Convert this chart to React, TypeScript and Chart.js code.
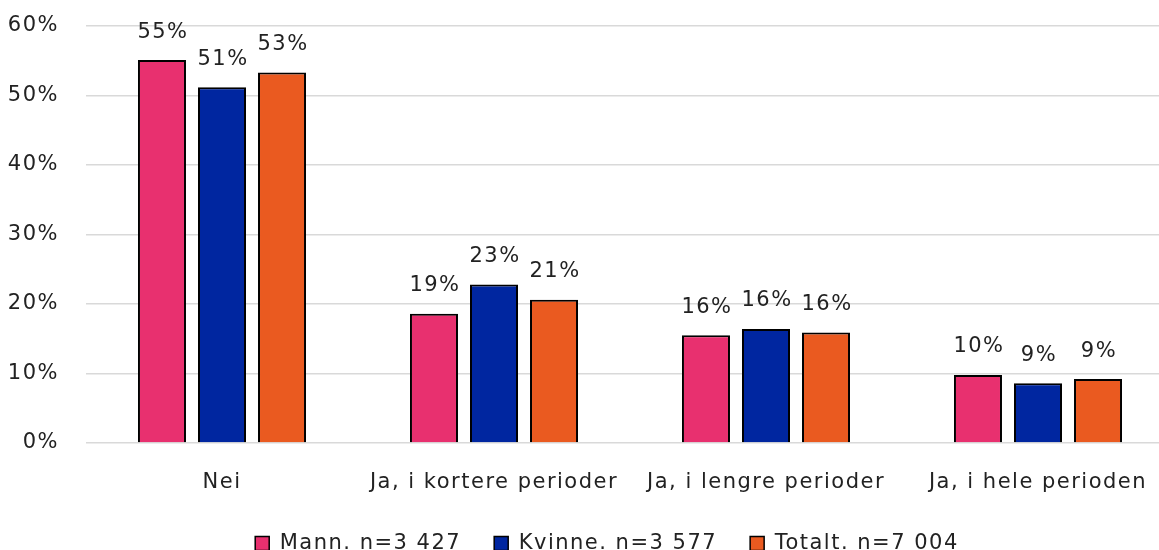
import React, { useEffect, useRef } from "react";
import { Chart, registerables } from "chart.js";

Chart.register(...registerables);

const categories = ["Nei", "Ja, i kortere perioder", "Ja, i lengre perioder", "Ja, i hele perioden"];
const seriesNames = ["Mann. n=3 427", "Kvinne. n=3 577", "Totalt. n=7 004"];
const mannValues = [55.1, 18.6, 15.5, 9.8];
const kvinneValues = [51.2, 22.8, 16.4, 8.6];
const totaltValues = [53.3, 20.6, 15.9, 9.2];
const seriesColors = ["#E8306F", "#0026A0", "#EA5A20"];
const yTicks = [0, 10, 20, 30, 40, 50, 60];

const FONT = "'DejaVu Sans', sans-serif";
const FS = 21;
const SPACING = "1.5px";

const spacingPlugin = {
  id: "spacing",
  beforeUpdate(chart: any) {
    chart.ctx.letterSpacing = SPACING;
  },
  beforeLayout(chart: any) {
    chart.ctx.letterSpacing = SPACING;
  },
  beforeDraw(chart: any) {
    chart.ctx.letterSpacing = SPACING;
    const lg = chart.legend;
    if (lg) {
      lg.top = 500;
      lg.left = 20;
      lg.right = chart.width - 2 + 20;
    }
  },
};

const legendFitPlugin = {
  id: "legendFit",
  afterInit(chart: any) {
    const lg = chart.legend;
    if (lg) {
      const orig = lg.fit.bind(lg);
      lg.fit = function () {
        orig();
        this.height = 66.8;
      };
    }
  },
};

const dataLabelPlugin = {
  id: "dataLabels",
  afterDatasetsDraw(chart: any) {
    const ctx = chart.ctx;
    ctx.save();
    ctx.font = `${FS}px ${FONT}`;
    ctx.fillStyle = "#222";
    ctx.textAlign = "center";
    ctx.textBaseline = "middle";
    chart.data.datasets.forEach((ds: any, i: number) => {
      const meta = chart.getDatasetMeta(i);
      meta.data.forEach((bar: any, j: number) => {
        const v = ds.data[j];
        ctx.fillText(`${Math.round(v)}%`, bar.x + 1, bar.y - 28);
      });
    });
    ctx.restore();
  },
};

export default function App() {
  const ref = useRef<HTMLCanvasElement>(null);
  useEffect(() => {
    if (!ref.current) return;
    const c2d = ref.current.getContext("2d") as any;
    if (c2d) c2d.letterSpacing = SPACING;
    const values = [mannValues, kvinneValues, totaltValues];
    const chart = new Chart(ref.current, {
      type: "bar",
      data: {
        labels: categories,
        datasets: seriesNames.map((name, i) => ({
          label: name,
          data: values[i],
          backgroundColor: seriesColors[i],
          borderColor: "#000",
          borderWidth: 2,
          categoryPercentage: 0.662,
          barPercentage: 0.8,
        })),
      },
      options: {
        animation: false,
        responsive: false,
        maintainAspectRatio: false,
        layout: { padding: { top: 26, right: 2, left: 0, bottom: 0 } },
        plugins: {
          legend: {
            position: "bottom",
            labels: {
              font: { family: FONT, size: FS },
              color: "#222",
              boxWidth: 14,
              boxHeight: 14,
              padding: 33,
              generateLabels(chart: any) {
                return chart.data.datasets.map((ds: any, i: number) => ({
                  text: ds.label,
                  fillStyle: ds.backgroundColor,
                  strokeStyle: "#000",
                  lineWidth: 1.5,
                  fontColor: "#222",
                  datasetIndex: i,
                  hidden: false,
                }));
              },
            },
          },
          tooltip: { enabled: false },
        },
        scales: {
          x: {
            grid: { display: true, color: "transparent", drawOnChartArea: false, drawTicks: true, tickLength: 27, tickColor: "transparent" },
            border: { display: false },
            ticks: { font: { family: FONT, size: FS }, color: "#222", padding: 0 },
          },
          y: {
            min: 0,
            max: 60,
            afterBuildTicks(axis: any) {
              axis.ticks = yTicks.map((v) => ({ value: v }));
            },
            afterFit(axis: any) {
              axis.width = 86;
            },
            grid: { color: "#D9D9D9", lineWidth: 1.5, drawTicks: true, tickLength: 27, tickColor: "transparent" },
            border: { display: false },
            ticks: {
              font: { family: FONT, size: FS },
              color: "#222",
              padding: 0,
              callback: (v: any) => `${v}%`,
            },
          },
        },
      },
      plugins: [spacingPlugin, legendFitPlugin, dataLabelPlugin],
    });
    return () => chart.destroy();
  }, []);
  return (
    <div style={{ position: "fixed", left: 0, top: 0, width: 1159, height: 550, overflow: "hidden", background: "#fff" }}>
      <canvas ref={ref} width={1176} height={562} style={{ display: "block" }} />
    </div>
  );
}
